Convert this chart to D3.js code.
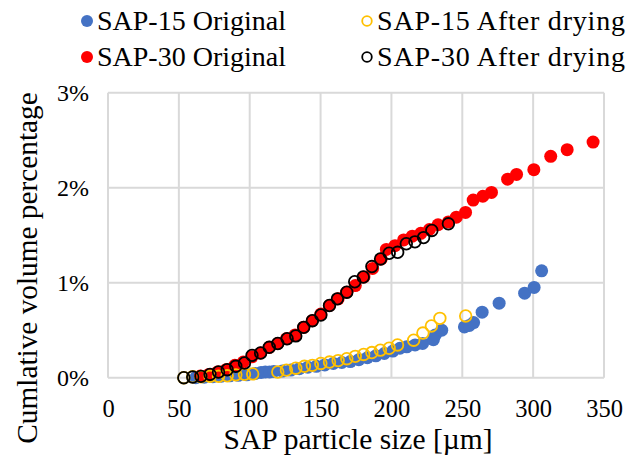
<!DOCTYPE html>
<html>
<head>
<meta charset="utf-8">
<script src="https://cdn.jsdelivr.net/npm/d3@7"></script>
<style>
  html, body { margin: 0; padding: 0; background: #fff; }
  svg text { font-family: "Liberation Serif", "Times New Roman", Times, "DejaVu Serif", serif !important; fill: #000; }
</style>
</head>
<body>
<svg id="chart" width="630" height="461"></svg>
<script>
// Particle size [µm] vs cumulative volume [%] for each sample
const sap15Original = [
  [62, 0.0], [68, 0.005], [74, 0.01], [80, 0.015], [86, 0.02], [92, 0.025], [98, 0.03],
  [104, 0.045], [108, 0.055], [111, 0.06], [114, 0.06], [117, 0.065], [123, 0.07],
  [129, 0.08], [135, 0.095], [141, 0.11], [147, 0.12], [153, 0.135], [159, 0.15],
  [165, 0.16], [171, 0.17], [177, 0.19], [183, 0.21], [189, 0.23], [195, 0.255],
  [201, 0.28], [206, 0.31], [210.8, 0.325], [216.7, 0.345], [222, 0.36], [229.6, 0.40],
  [231, 0.45], [235.5, 0.50], [251.5, 0.535], [255, 0.55], [258, 0.58], [264, 0.69],
  [276, 0.785], [294, 0.89], [300.7, 0.95], [306, 1.125]
];
const sap30Original = [
  [65.2, 0.018], [71.2, 0.035], [77.3, 0.06], [83.4, 0.084], [89.5, 0.13], [95.5, 0.165],
  [101.6, 0.22], [107.7, 0.26], [113.8, 0.32], [119.8, 0.36], [125.9, 0.41], [132.0, 0.45],
  [138.1, 0.53], [144.2, 0.60], [150.2, 0.67], [156.3, 0.76], [162.4, 0.83], [168.5, 0.90],
  [174.5, 0.97], [180.6, 1.06], [186.7, 1.15], [192.8, 1.25], [196.4, 1.35], [202.5, 1.39],
  [208.6, 1.45], [214.7, 1.49], [220.7, 1.52], [226.8, 1.56], [232.9, 1.61], [240.2, 1.64],
  [245.8, 1.69], [252.3, 1.74], [257.7, 1.87], [264.5, 1.91], [270.6, 1.95], [282.0, 2.09],
  [288.3, 2.14], [300.5, 2.19], [312.4, 2.33], [324.0, 2.40], [342.3, 2.48]
];
const sap15AfterDrying = [
  [53.5, 0.0], [59.8, 0.01], [65.6, 0.01], [72.0, 0.015], [78.0, 0.015], [84.1, 0.02],
  [90.2, 0.03], [96.3, 0.035], [102.1, 0.04], [119.8, 0.06], [125.9, 0.08], [132.5, 0.10],
  [138.6, 0.12], [144.2, 0.13], [150.2, 0.15], [156.3, 0.165], [162.4, 0.18], [168.5, 0.20],
  [174.5, 0.225], [180.4, 0.245], [186.2, 0.265], [192.2, 0.29], [198.4, 0.31], [204.3, 0.345],
  [215.7, 0.395], [222.2, 0.47], [228.2, 0.545], [234.2, 0.625], [252.4, 0.65]
];
const sap30AfterDrying = [
  [53.5, 0.0], [59.8, 0.007], [65.6, 0.014], [72.0, 0.035], [78.0, 0.06], [84.1, 0.084],
  [90.2, 0.12], [96.3, 0.155], [101.6, 0.235], [107.7, 0.26], [113.8, 0.32], [119.8, 0.36],
  [126.4, 0.41], [132.5, 0.44], [138.1, 0.53], [144.2, 0.60], [150.2, 0.66], [156.3, 0.76],
  [161.9, 0.83], [168.5, 0.90], [174.1, 1.01], [180.1, 1.06], [186.2, 1.17], [192.3, 1.25],
  [198.4, 1.31], [204.4, 1.32], [210.5, 1.41], [216.6, 1.43], [222.7, 1.475], [228.5, 1.55],
  [240.2, 1.62]
];

const xTicks = [0, 50, 100, 150, 200, 250, 300, 350];
const yTicks = [0, 1, 2, 3];

const seriesNames = ["SAP-15 Original", "SAP-30 Original", "SAP-15 After drying", "SAP-30 After drying"];
const seriesData = [sap15Original, sap30Original, sap15AfterDrying, sap30AfterDrying];
const seriesColors = ["#4472C4", "#FF0000", "#FFC000", "#000000"];
const seriesFilled = [true, true, false, false];

const svg = d3.select("#chart");
const plot = { left: 108, right: 604, top: 92.7, bottom: 377.7 };

const x = d3.scaleLinear().domain([0, 350]).range([plot.left, plot.right]);
const y = d3.scaleLinear().domain([0, 3]).range([plot.bottom, plot.top]);

// grid
const grid = svg.append("g");
grid.selectAll("line.v").data(xTicks).enter().append("line")
  .attr("x1", d => x(d)).attr("x2", d => x(d))
  .attr("y1", plot.top).attr("y2", plot.bottom)
  .attr("stroke", "#d9d9d9").attr("stroke-width", 2);
grid.selectAll("line.h").data(yTicks).enter().append("line")
  .attr("x1", plot.left).attr("x2", plot.right)
  .attr("y1", d => y(d)).attr("y2", d => y(d))
  .attr("stroke", "#d9d9d9").attr("stroke-width", 2);

// axes (labels only; lines come from the grid)
const xAxis = svg.append("g")
  .attr("transform", `translate(0,${plot.bottom + 19})`)
  .call(d3.axisBottom(x).tickValues(xTicks).tickSize(0).tickFormat(d3.format("d")));
xAxis.select(".domain").remove();
xAxis.attr("font-size", 24.5);

const yAxis = svg.append("g")
  .attr("transform", `translate(${plot.left - 16},0)`)
  .call(d3.axisLeft(y).tickValues(yTicks).tickSize(0).tickFormat(d => d + "%"));
yAxis.select(".domain").remove();
yAxis.attr("font-size", 24);

// axis titles
svg.append("text")
  .attr("x", 358).attr("y", 449)
  .attr("text-anchor", "middle").attr("font-size", 29.5)
  .text("SAP particle size [µm]");
svg.append("text")
  .attr("transform", "translate(37,268) rotate(-90)")
  .attr("text-anchor", "middle").attr("font-size", 29.3)
  .text("Cumlative volume percentage");

// markers
seriesData.forEach((data, i) => {
  const g = svg.append("g");
  g.selectAll("circle").data(data).enter().append("circle")
    .attr("cx", d => x(d[0])).attr("cy", d => y(d[1]))
    .attr("r", seriesFilled[i] ? 6.5 : 5.8)
    .attr("fill", seriesFilled[i] ? seriesColors[i] : "none")
    .attr("stroke", seriesFilled[i] ? "none" : seriesColors[i])
    .attr("stroke-width", 1.8);
});

// legend: two columns, right column text spread to its full width
const legendPos = [[87, 21], [87, 57], [367, 21], [367, 57]];
seriesNames.forEach((name, i) => {
  const [lx, ly] = legendPos[i];
  const g = svg.append("g").attr("transform", `translate(${lx},${ly})`);
  g.append("circle").attr("r", seriesFilled[i] ? 6 : 4.8)
    .attr("fill", seriesFilled[i] ? seriesColors[i] : "none")
    .attr("stroke", seriesFilled[i] ? "none" : seriesColors[i])
    .attr("stroke-width", 1.8);
  const t = g.append("text").attr("x", 10).attr("y", 9).attr("font-size", 28).text(name);
  if (!seriesFilled[i]) t.attr("textLength", 248).attr("lengthAdjust", "spacing");
});
</script>
</body>
</html>
